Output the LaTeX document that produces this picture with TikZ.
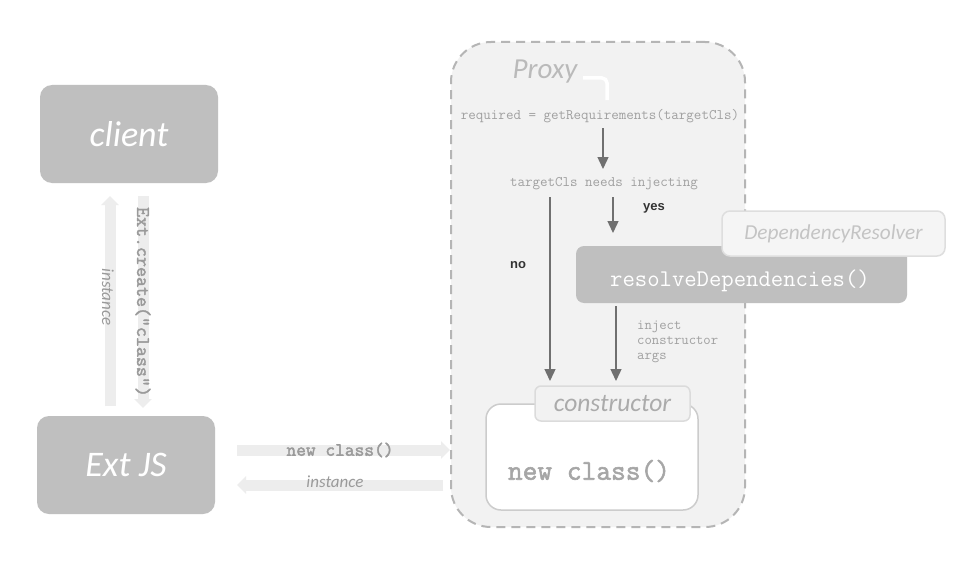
\documentclass[tikz,border=0pt]{standalone}
\usepackage{fontspec}
\setmainfont{Carlito}
\newfontfamily\arialf{Liberation Sans}
\newfontfamily\monob{Latin Modern Mono}[FakeBold=2]
\usetikzlibrary{arrows.meta}
\definecolor{boxgray}{HTML}{BFBFBF}
\definecolor{fatgray}{HTML}{EDEDED}
\definecolor{labgray}{HTML}{9A9A9A}
\definecolor{proxyfill}{HTML}{F2F2F2}
\definecolor{proxyline}{HTML}{B5B5B5}
\definecolor{darkarrow}{HTML}{707070}
\definecolor{codegray}{HTML}{A0A0A0}
\tikzset{
  greybox/.style={fill=boxgray, draw=none, rounded corners=12pt, minimum width=178pt, minimum height=98pt,
    text=white, font=\itshape\fontsize{36}{40}\selectfont},
  fatarrow/.style={draw=fatgray, line width=11pt, -{Triangle[length=9pt,width=17pt]}},
  fatlab/.style={inner sep=0pt, text=labgray},
  darrow/.style={draw=darkarrow, line width=1.4pt, -{Triangle[length=12pt,width=11pt]}},
  codetxt/.style={inner sep=0pt, text=codegray, font=\ttfamily\fontsize{14.6}{16}\selectfont},
  yesno/.style={inner sep=0pt, text=black!80, font=\arialf\bfseries\fontsize{13}{15}\selectfont}
}
\begin{document}
\begin{tikzpicture}[x=1pt,y=-1pt]
\useasboundingbox[fill=white] (0,0) rectangle (980,586);
% left boxes
\node[greybox] (client) at (129,134) {client};
\node[greybox] (extjs) at (126,465) {Ext JS};
% vertical fat arrows
\coordinate (upS) at (110,406);
\coordinate (upE) at (110,196);
\coordinate (dnS) at (143,196);
\coordinate (dnE) at (143,408);
\draw[fatarrow] (upS) -- (upE);
\draw[fatarrow] (dnS) -- (dnE);
\node[fatlab, rotate=-90, font=\itshape\fontsize{17}{19}\selectfont] (instv) at (108,297) {instance};
\node[fatlab, rotate=-90, font=\monob\fontsize{19.4}{21}\selectfont] (extcreate) at (143,302) {Ext.create("class")};
% proxy
\node[draw=proxyline, fill=proxyfill, dashed, dash pattern=on 9pt off 6pt, line width=2pt, rounded corners=40pt,
  minimum width=294pt, minimum height=485pt, inner sep=0pt] (proxy) at (598,284.5) {};
\node[inner sep=0pt, text=black!27, font=\itshape\fontsize{29}{32}\selectfont] (proxylab) at (545,72) {Proxy};
\draw[white, line width=3.5pt, rounded corners=5pt] (583,78) -- (607,78) -- (607,100);
% horizontal fat arrows
\coordinate (hrS) at (237,450);
\coordinate (hlS) at (443,485);
\coordinate (hlE) at (237,485);
\draw[fatarrow] (hrS) -- (proxy.west |- hrS);
\draw[fatarrow] (hlS) -- (hlE);
\node[fatlab, font=\monob\fontsize{18.9}{20}\selectfont] (newlab) at (340,450) {new class()};
\node[fatlab, font=\itshape\fontsize{17}{19}\selectfont] (instlab) at (335,482) {instance};
% inner flow
\node[codetxt] (req) at (600,116) {required = getRequirements(targetCls)};
\node[codetxt] (needs) at (604,184) {targetCls needs injecting};
\draw[darrow] (603,128) -- (603,169);
% dependency resolver
\node[fill=boxgray, rounded corners=8pt, minimum width=331pt, minimum height=57pt, inner sep=0pt] (resolve) at (741.5,274.5) {};
\node[draw=black!13, fill=black!4, line width=1.5pt, rounded corners=8pt, minimum width=223pt, minimum height=45pt,
  inner sep=0pt, text=black!23, font=\itshape\fontsize{21.3}{23}\selectfont] (depres) at (833.5,233.5) {DependencyResolver};
\node[inner sep=0pt, text=white, font=\ttfamily\fontsize{24}{26}\selectfont] (resolvelab) at (740,281) {resolveDependencies()};
% constructor
\node[draw=black!20, fill=white, line width=1.5pt, rounded corners=15pt, minimum width=212pt, minimum height=106pt, inner sep=0pt] (ctor) at (592,457) {};
\node[draw=black!14, fill=black!5, line width=1.5pt, rounded corners=6pt, minimum width=155pt, minimum height=35pt,
  inner sep=0pt, text=black!33, font=\itshape\fontsize{25.5}{27}\selectfont] (ctortab) at (612.5,403.5) {constructor};
\node[inner sep=0pt, text=black!35, font=\monob\fontsize{28.6}{30}\selectfont] (newclass) at (589,471) {new class()};
% arrows yes/no
\draw[darrow] (needs.south -| 550,0) ++(0,7) -- (550,381);
\draw[darrow] (needs.south -| 613,0) ++(0,7) -- (613,233);
\node[yesno] (no) at (518,265) {no};
\node[yesno] (yes) at (654,208) {yes};
\draw[darrow] (resolve.south -| 616,0) ++(0,3) -- (616,381);
\node[codetxt, align=left, anchor=north west, font=\ttfamily\fontsize{14.3}{15}\selectfont] (inject) at (637,321) {inject\\constructor\\args};
\end{tikzpicture}
\end{document}
